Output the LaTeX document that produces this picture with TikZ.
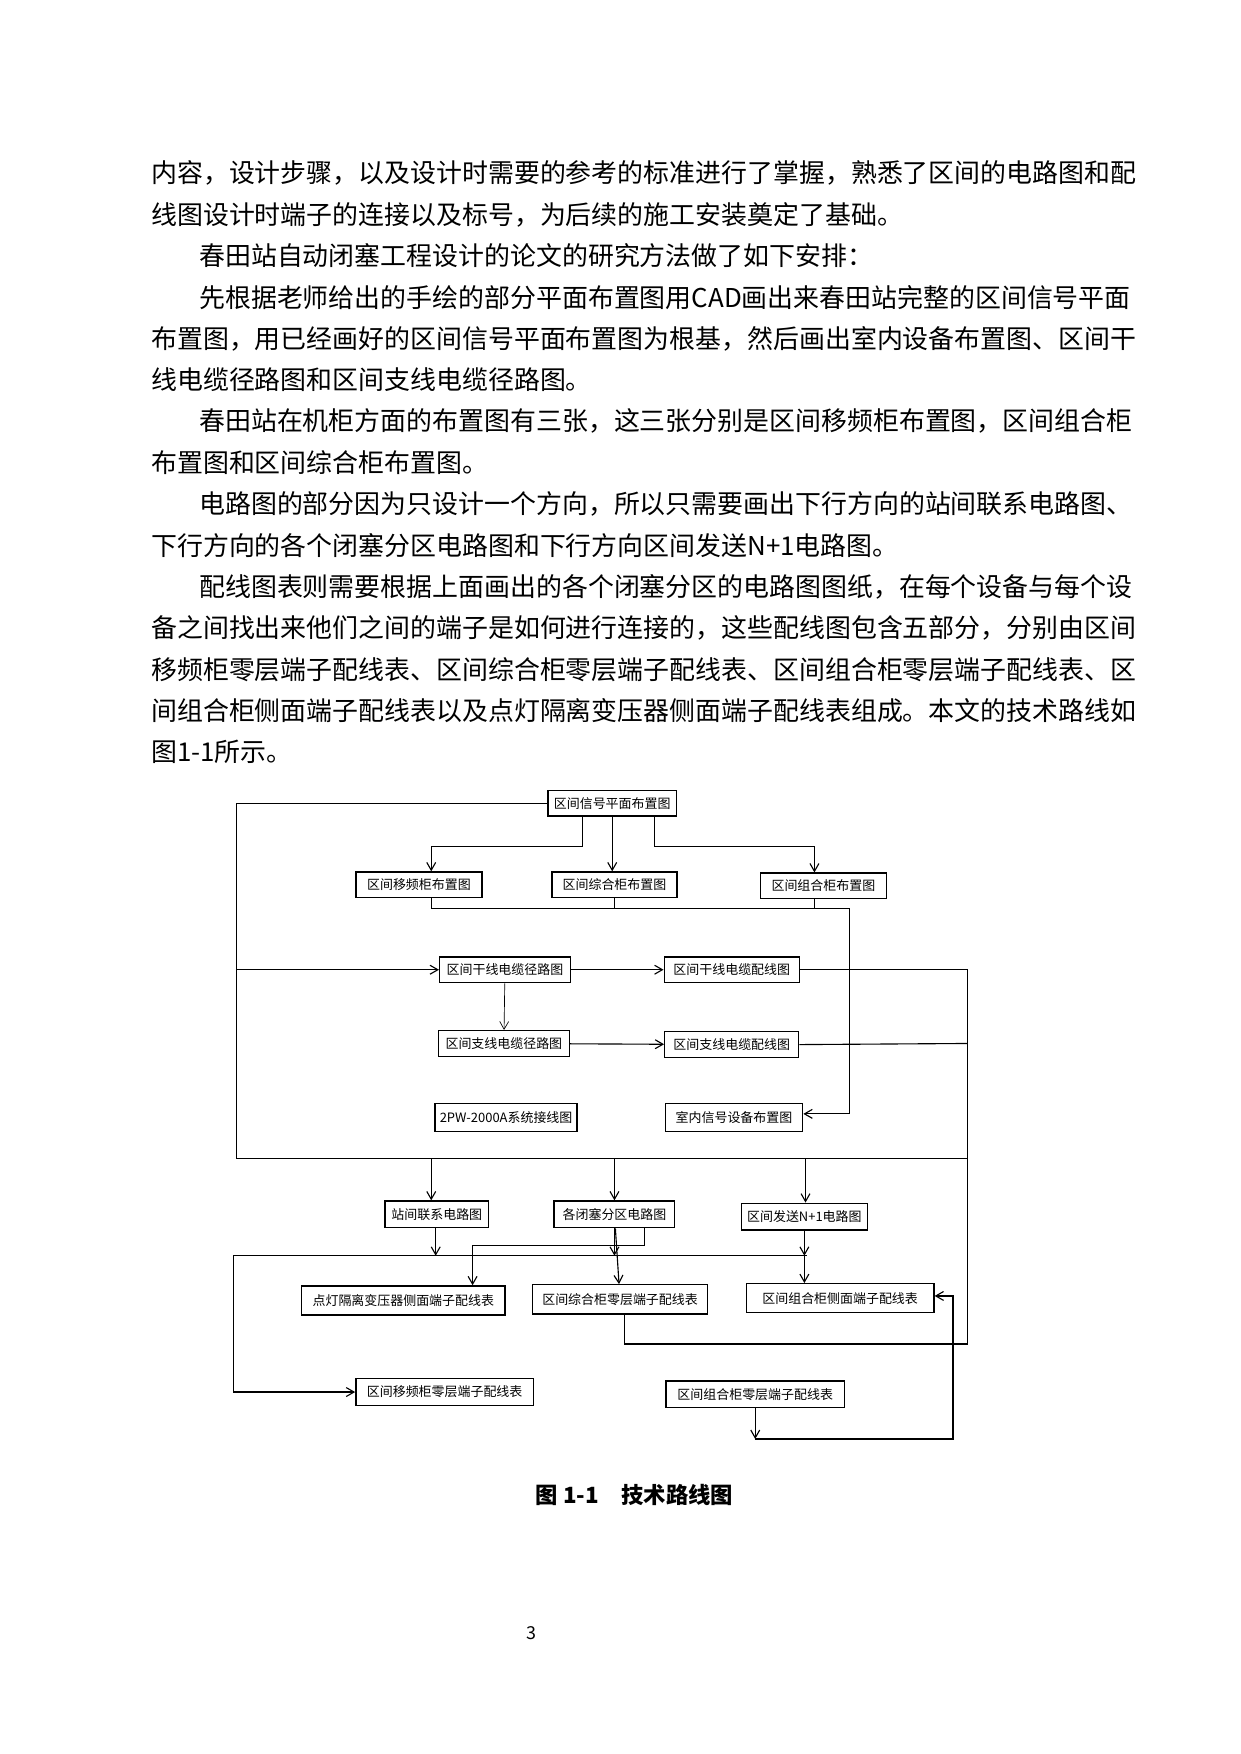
\documentclass[tikz,border=0pt]{standalone}
\usepackage{fontspec}
\setmainfont{Noto Sans CJK SC}
\usetikzlibrary{arrows.meta}
\begin{document}
\begin{tikzpicture}[x=0.5pt,y=-0.5pt,
  para/.style={anchor=west,inner sep=0pt,font=\fontsize{11.6}{14}\selectfont},
  box/.style={draw,line width=0.6pt,inner sep=1pt,font=\fontsize{5.8}{7}\selectfont,minimum width=#1*0.5pt,minimum height=11.5pt},
  ln/.style={line width=0.5pt},
  ar/.style={ln,-{Straight Barb[length=3.5pt,width=4pt]}}]
\useasboundingbox (0,0) rectangle (1110,1570);
% body text
\node[para] (p1) at (135,155) {内容，设计步骤，以及设计时需要的参考的标准进行了掌握，熟悉了区间的电路图和配};
\node[para] (p2) at (135,192) {线图设计时端子的连接以及标号，为后续的施工安装奠定了基础。};
\node[para] (p3) at (178,229) {春田站自动闭塞工程设计的论文的研究方法做了如下安排：};
\node[para] (p4) at (178,266) {先根据老师给出的手绘的部分平面布置图用CAD画出来春田站完整的区间信号平面};
\node[para] (p5) at (135,303) {布置图，用已经画好的区间信号平面布置图为根基，然后画出室内设备布置图、区间干};
\node[para] (p6) at (135,340) {线电缆径路图和区间支线电缆径路图。};
\node[para] (p7) at (178,377) {春田站在机柜方面的布置图有三张，这三张分别是区间移频柜布置图，区间组合柜};
\node[para] (p8) at (135,414) {布置图和区间综合柜布置图。};
\node[para] (p9) at (178,451) {电路图的部分因为只设计一个方向，所以只需要画出下行方向的站间联系电路图、};
\node[para] (p10) at (135,488) {下行方向的各个闭塞分区电路图和下行方向区间发送N+1电路图。};
\node[para] (p11) at (178,525) {配线图表则需要根据上面画出的各个闭塞分区的电路图图纸，在每个设备与每个设};
\node[para] (p12) at (135,562) {备之间找出来他们之间的端子是如何进行连接的，这些配线图包含五部分，分别由区间};
\node[para] (p13) at (135,599) {移频柜零层端子配线表、区间综合柜零层端子配线表、区间组合柜零层端子配线表、区};
\node[para] (p14) at (135,636) {间组合柜侧面端子配线表以及点灯隔离变压器侧面端子配线表组成。本文的技术路线如};
\node[para] (p15) at (135,673) {图1-1所示。};
% boxes
\node[box=115] (A) at (548,719) {区间信号平面布置图};
\node[box=113] (B1) at (375,792) {区间移频柜布置图};
\node[box=112] (B2) at (550,792) {区间综合柜布置图};
\node[box=113] (B3) at (737,793) {区间组合柜布置图};
\node[box=117] (C1) at (452,868) {区间干线电缆径路图};
\node[box=121] (C2) at (655,868) {区间干线电缆配线图};
\node[box=117] (D1) at (451,934) {区间支线电缆径路图};
\node[box=120] (D2) at (655,935) {区间支线电缆配线图};
\node[box=127,minimum height=12.5pt] (E1) at (453,1000) {2PW-2000A系统接线图};
\node[box=123,minimum height=12.5pt] (E2) at (657,1000) {室内信号设备布置图};
\node[box=93,minimum height=12pt] (F1) at (391,1087) {站间联系电路图};
\node[box=108,minimum height=12pt] (F2) at (550,1087) {各闭塞分区电路图};
\node[box=113,minimum height=12pt] (F3) at (720,1089) {区间发送N+1电路图};
\node[box=182,minimum height=13pt] (G1) at (361,1164) {点灯隔离变压器侧面端子配线表};
\node[box=157,minimum height=13pt] (G2) at (555,1163) {区间综合柜零层端子配线表};
\node[box=168,minimum height=13pt] (G3) at (752,1162) {区间组合柜侧面端子配线表};
\node[box=159,minimum height=12pt] (H1) at (398,1246) {区间移频柜零层端子配线表};
\node[box=160,minimum height=12pt] (H2) at (676,1248) {区间组合柜零层端子配线表};
% helper coordinates
\coordinate (L1) at (212,719);
\coordinate (L2) at (212,1037);
\coordinate (R2) at (866,1037);
\coordinate (R1) at (866,868);
\coordinate (R3) at (866,1203);
\coordinate (M) at (760,813);
\coordinate (N) at (760,997);
% connectors
\draw[ln] (A.west) -- (L1) -- (L2) -- (R2);
\draw[ln] (R1) -- (R3) -- (559,1203) -- (G2.south -| 559,0);
\draw[ar] (A.south -| 521,0) -- (521,758) -- (386,758) -- (B1.north -| 386,0);
\draw[ar] (A.south -| 548,0) -- (B2.north -| 548,0);
\draw[ar] (A.south -| 586,0) -- (586,758) -- (729,758) -- (B3.north -| 729,0);
\draw[ln] (B1.south -| 386,0) -- (386,813) -- (M);
\draw[ln] (B2.south -| 550,0) -- (550,813);
\draw[ln] (B3.south -| 729,0) -- (729,813);
\draw[ar] (M) -- (N) -- (N -| E2.east);
\draw[ar] (212,868) -- (C1.west);
\draw[ar] (C1) -- (C2);
\draw[ar,line width=0.3pt] (C1) -- (D1);
\draw[ar] (D1) -- (D2);
\draw[ln] (C2.east) -- (R1);
\draw[ln] (D2.east) -- (866,934);
\draw[ar] (386,1037) -- (F1.north -| 386,0);
\draw[ar] (550,1037) -- (F2.north -| 550,0);
\draw[ar] (721,1037) -- (F3.north -| 721,0);
\draw[ln] (209,1124) -- (722,1124);
\draw[ar] (F1.south -| 390,0) -- (390,1124);
\draw[ar] (F2) -- (G2);
\draw[ar] (F2.south -| 550,0) -- (550,1124);
\draw[ar] (F2.south -| 577,0) -- (577,1115) -- (423,1115) -- (G1.north -| 423,0);
\draw[ar] (F3.south -| 720,0) -- (720,1124);
\draw[ar] (F3.south -| 720,0) -- (G3.north -| 720,0);
\draw[ar] (209,1124) -- (209,1246) -- (H1.west);
\draw[ar] (H2.south) -- (676,1288);
\draw[ar] (676,1288) -- (853,1288) -- (853,1160) -- (G3.east |- 0,1160);
% caption
\node[font=\fontsize{10}{12}\selectfont\bfseries] (cap) at (568,1338) {图 1-1\quad 技术路线图};
\node[font=\fontsize{8}{10}\selectfont] (pg) at (476,1462) {3};
\end{tikzpicture}
\end{document}
